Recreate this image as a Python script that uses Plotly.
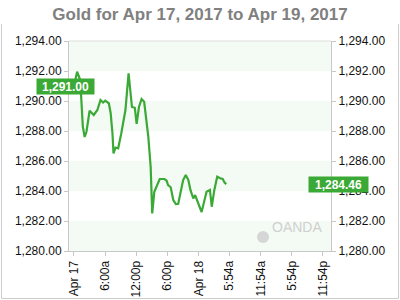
import plotly.graph_objects as go

# ---- data ----
hours = [0, 0.6, 1.2, 1.5, 1.7, 2.05, 2.4, 3.0, 3.8, 4.5, 5.1, 5.6, 6.0, 6.7, 7.05, 7.4,
         7.6, 8.0, 8.5, 9.1, 9.9, 10.5, 11.15, 11.7, 12.05, 12.5, 13.0, 13.5, 14.3, 14.75,
         15.05, 15.45, 15.9, 16.5, 17.4, 17.8, 18.1, 18.6, 19.1, 19.6, 20.05, 20.5, 21.0,
         21.5, 22.0, 22.4, 22.95, 23.3, 23.7, 24.1, 24.55, 25.0, 25.5, 26.15, 26.5, 27.0,
         27.55, 28.1, 28.6, 29.0, 29.3]
prices = [1291.0, 1291.95, 1291.4, 1289.4, 1288.3, 1287.6, 1287.95, 1289.35, 1289.07, 1289.4,
          1290.07, 1289.9, 1290.02, 1289.85, 1289.2, 1287.85, 1286.5, 1286.9, 1286.85, 1287.85,
          1289.4, 1291.85, 1289.6, 1289.55, 1288.47, 1289.6, 1290.13, 1289.95, 1287.6, 1285.6,
          1282.5, 1283.95, 1284.3, 1284.8, 1284.8, 1284.7, 1284.4, 1284.25, 1283.4, 1283.13,
          1283.15, 1283.95, 1284.73, 1285.07, 1284.73, 1284.07, 1283.5, 1283.73, 1283.3, 1283.0,
          1282.6, 1283.18, 1283.95, 1284.07, 1282.95, 1284.07, 1284.95, 1284.85, 1284.8, 1284.55,
          1284.46]
x_tick_vals = [0, 6, 12, 18, 24, 29.9, 35.9, 41.9, 47.9]
x_tick_text = ["Apr 17", "6:00a", "12:00p", "6:00p", "Apr 18", "5:54a", "11:54a", "5:54p", "11:54p"]
y_tick_vals = [1280, 1282, 1284, 1286, 1288, 1290, 1292, 1294]
y_tick_text = ["1,280.00", "1,282.00", "1,284.00", "1,286.00", "1,288.00", "1,290.00", "1,292.00", "1,294.00"]
title_text = "Gold for Apr 17, 2017 to Apr 19, 2017"

GREEN = "#3aa935"
W, H = 400, 300
ML, MR, MT, MB = 69, 69, 41, 49
PW, PH = W - ML - MR, H - MT - MB
FONT = "Liberation Sans, Arial"


def px(x):
    return (x - ML) / PW


def py(y):
    return (H - MB - y) / PH


fig = go.Figure()
fig.add_trace(go.Scatter(x=hours, y=prices, mode="lines",
                         line=dict(color=GREEN, width=2.2), hoverinfo="skip"))
fig.add_trace(go.Scatter(x=hours, y=prices, mode="lines", yaxis="y2",
                         line=dict(color="rgba(0,0,0,0)", width=0), hoverinfo="skip"))

shapes = []
# alternating bands
for i in range(0, len(y_tick_vals) - 1, 2):
    shapes.append(dict(type="rect", xref="paper", yref="y", x0=0, x1=1,
                       y0=y_tick_vals[i], y1=y_tick_vals[i + 1],
                       fillcolor="#f4faf4", line=dict(width=0), layer="below"))
# top light line
shapes.append(dict(type="line", xref="paper", yref="paper", x0=0, x1=1, y0=1, y1=1,
                   line=dict(color="#dddddd", width=1)))
# outer frame (left, bottom, right)
shapes.append(dict(type="path", xref="paper", yref="paper",
                   path=f"M {px(1.5)},{py(24)} L {px(1.5)},{py(298.5)} L {px(398.5)},{py(298.5)} L {px(398.5)},{py(24)}",
                   line=dict(color="#cccccc", width=1)))

annotations = []


def tag(value, left):
    h = 0.5
    if left:
        xb, xt = px(62.5), px(69)
        cx, wbox = (8 + 63) / 2, 55
    else:
        xb, xt = px(340.5), px(333)
        cx, wbox = (340 + 397) / 2, 57
    shapes.append(dict(type="path", xref="paper", yref="y",
                       path=f"M {xb},{value + h} L {xt},{value} L {xb},{value - h} Z",
                       fillcolor=GREEN, line=dict(width=0)))
    annotations.append(dict(x=px(cx), y=value, xref="paper", yref="y",
                            text=f"<b>{value:,.2f}</b>", showarrow=False,
                            width=wbox, height=13, borderpad=1, bgcolor=GREEN,
                            font=dict(color="white", size=12, family=FONT)))


tag(prices[0], True)
tag(prices[-1], False)

# watermark
shapes.append(dict(type="circle", xref="paper", yref="paper",
                   x0=px(257), x1=px(269), y0=py(243), y1=py(231),
                   fillcolor="#d6d6d6", line=dict(width=0)))
annotations.append(dict(x=px(270), y=py(237), xref="paper", yref="paper", xanchor="left",
                        text="OANDA", showarrow=False,
                        font=dict(color="#d0d0d0", size=14, family=FONT)))

tickfont = dict(family=FONT, size=12, color="#111111")
common = dict(showgrid=False, zeroline=False, showline=True, linecolor="#c8c8c8",
              ticks="outside", ticklen=4, tickcolor="#c8c8c8", tickfont=tickfont,
              automargin=False)

fig.update_layout(
    width=W, height=H,
    margin=dict(l=ML, r=MR, t=MT, b=MB, autoexpand=False),
    paper_bgcolor="white", plot_bgcolor="white",
    showlegend=False,
    title=dict(text=f"<b>{title_text}</b>", x=0.5, xanchor="center", y=1 - 14 / H, yanchor="middle",
               font=dict(family=FONT, size=17, color="#808080")),
    xaxis=dict(range=[-0.96, 49.44], tickvals=x_tick_vals, ticktext=x_tick_text, tickangle=-90,
               **common),
    yaxis=dict(range=[1280, 1294], tickvals=y_tick_vals, ticktext=y_tick_text, **common),
    yaxis2=dict(range=[1280, 1294], tickvals=y_tick_vals, ticktext=y_tick_text,
                overlaying="y", side="right", **common),
    shapes=shapes,
    annotations=annotations,
)

fig.write_html("out.html")
